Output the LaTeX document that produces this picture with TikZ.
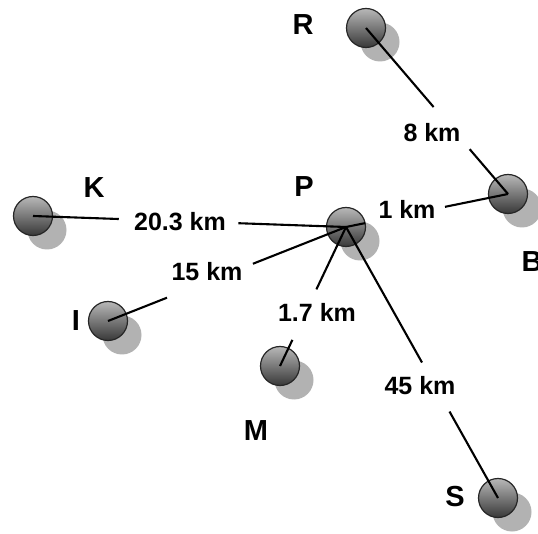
\documentclass[tikz,border=0pt]{standalone}
\usepackage{fontspec}
\setmainfont{Liberation Sans}
\usetikzlibrary{calc,shadows}
\begin{document}
\begin{tikzpicture}[x=1pt,y=-1pt,
  ball/.style={circle,minimum size=39pt,inner sep=0pt,draw=black!85,line width=1.2pt,
    top color=black!28,bottom color=black!78,
    drop shadow={shadow xshift=14pt,shadow yshift=-14pt,fill=black!30,opacity=1,draw=none}},
  conn/.style={line width=2.1pt,black},
  dist/.style={inner sep=0pt,font=\bfseries\fontsize{25}{25}\selectfont},
  nodelabel/.style={inner sep=0pt,font=\bfseries\fontsize{29}{29}\selectfont}]
\useasboundingbox (0,0) rectangle (538,534);
\fill[white] (0,0) rectangle (538,534);
% balls
\node[ball] (R) at (366,28) {};
\node[ball] (B) at (508,194) {};
\node[ball] (P) at (346,227) {};
\node[ball] (K) at (33,216) {};
\node[ball] (I) at (108,321) {};
\node[ball] (M) at (280,366) {};
\node[ball] (S) at (498,498) {};
% names
\node[nodelabel] (lR) at (303,25) {R};
\node[nodelabel] (lP) at (304,187) {P};
\node[nodelabel] (lK) at (94,188) {K};
\node[nodelabel] (lI) at (76,321) {I};
\node[nodelabel] (lM) at (256,431) {M};
\node[nodelabel] (lS) at (455,497) {S};
\node[nodelabel] (lB) at (532,262) {B};
% distances
\node[dist] (d8) at (432,133) {8 km};
\node[dist] (d1) at (407,209) {1 km};
\node[dist] (d20) at (180,222) {20.3 km};
\node[dist] (d15) at (207,272) {15 km};
\node[dist] (d17) at (317,312) {1.7 km};
\node[dist] (d45) at (420,386) {45 km};
% connectors
\draw[conn] (R.center) -- ($(R.center)!0.476!(B.center)$);
\draw[conn] ($(R.center)!0.73!(B.center)$) -- (B.center);
\draw[conn] (P.center) -- ($(P.center)!0.117!(B.center)$);
\draw[conn] ($(P.center)!0.611!(B.center)$) -- (B.center);
\draw[conn] (K.center) -- ($(K.center)!0.274!(P.center)$);
\draw[conn] ($(K.center)!0.656!(P.center)$) -- (P.center);
\draw[conn] (I.center) -- ($(I.center)!0.248!(P.center)$);
\draw[conn] ($(I.center)!0.609!(P.center)$) -- (P.center);
\draw[conn] (M.center) -- ($(M.center)!0.188!(P.center)$);
\draw[conn] ($(M.center)!0.551!(P.center)$) -- (P.center);
\draw[conn] (P.center) -- ($(P.center)!0.5!(S.center)$);
\draw[conn] ($(P.center)!0.681!(S.center)$) -- (S.center);
\end{tikzpicture}
\end{document}
